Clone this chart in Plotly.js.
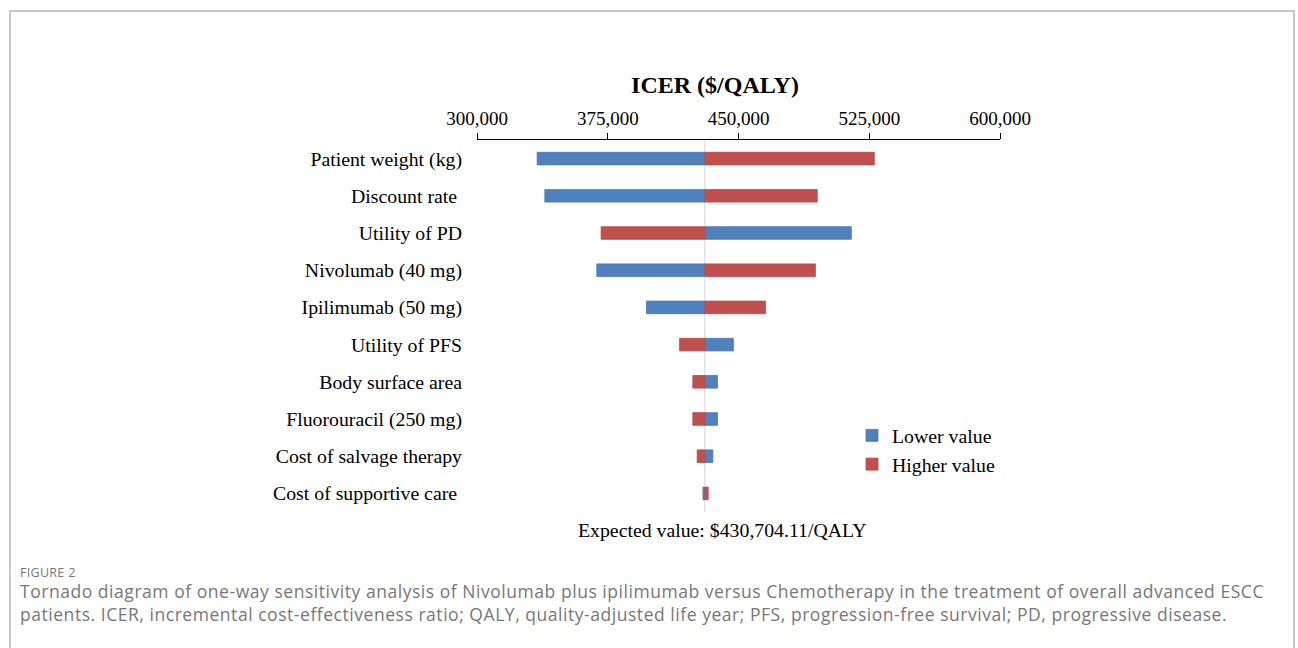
<!DOCTYPE html>
<html>
<head>
<meta charset="utf-8">
<script src="https://cdn.plot.ly/plotly-3.0.1.min.js"></script>
<style>
  html, body { margin: 0; padding: 0; background: #ffffff; }
  #wrap { position: relative; width: 1298px; height: 648px; overflow: hidden; background: #fff; }
  #frame { position: absolute; left: 9px; top: 10px; width: 1286px; height: 660px;
           border-top: 2px solid #c8c8c8; border-left: 2px solid #c8c8c8; border-right: 2px solid #c8c8c8; box-sizing: border-box; }
  #chart { position: absolute; left: 0; top: 0; width: 1298px; height: 648px; }
  .cap { position: absolute; left: 20px; font-family: "Open Sans", "Noto Sans", sans-serif; color: #777777; white-space: nowrap; }
  #figlab { top: 564px; font-size: 12.5px; letter-spacing: 0.3px; }
  #cap1 { top: 579px; font-size: 17.5px; letter-spacing: 0.54px; }
  #cap2 { top: 602px; font-size: 17.5px; letter-spacing: 0.54px; }
</style>
</head>
<body>
<div id="wrap">
  <div id="frame"></div>
  <div id="chart"></div>
  <div class="cap" id="figlab">FIGURE 2</div>
  <div class="cap" id="cap1">Tornado diagram of one-way sensitivity analysis of Nivolumab plus ipilimumab versus Chemotherapy in the treatment of overall advanced ESCC</div>
  <div class="cap" id="cap2">patients. ICER, incremental cost-effectiveness ratio; QALY, quality-adjusted life year; PFS, progression-free survival; PD, progressive disease.</div>
</div>
<script>
// ---- data ----
const expectedValue = 430704.11;
const parameters = [
  "Patient weight (kg)",
  "Discount rate\u00a0",
  "Utility of PD",
  "Nivolumab (40 mg)",
  "Ipilimumab (50 mg)",
  "Utility of PFS",
  "Body surface area",
  "Fluorouracil (250 mg)",
  "Cost of salvage therapy",
  "Cost of supportive care\u00a0"
];
// ICER when parameter set to its lower value
const lowerValueICER  = [334500, 338900, 514700, 368700, 397200, 447100, 438000, 438000, 435300, 429600];
// ICER when parameter set to its higher value
const higherValueICER = [527900, 495200, 371200, 494100, 465500, 416200, 423800, 423800, 426300, 432600];
const xTicks = [300000, 375000, 450000, 525000, 600000];

const serif = "Liberation Serif, Times New Roman, serif";

const lowerTrace = {
  type: "bar", orientation: "h", name: "Lower value",
  y: parameters,
  x: lowerValueICER.map(v => v - expectedValue),
  base: expectedValue,
  width: 0.34,
  marker: { color: "#4f81bd", line: { color: "#4a7ab3", width: 0.8 } },
  hoverinfo: "skip"
};
const higherTrace = {
  type: "bar", orientation: "h", name: "Higher value",
  y: parameters,
  x: higherValueICER.map(v => v - expectedValue),
  base: expectedValue,
  width: 0.34,
  marker: { color: "#c0504d", line: { color: "#b84a47", width: 0.8 } },
  hoverinfo: "skip"
};

const layout = {
  width: 1298, height: 648,
  paper_bgcolor: "rgba(0,0,0,0)", plot_bgcolor: "rgba(0,0,0,0)",
  margin: { l: 477, r: 298, t: 140, b: 136 },
  barmode: "overlay",
  font: { family: serif, size: 20, color: "#000" },
  title: {
    text: "<b>ICER ($/QALY)</b>",
    font: { family: serif, size: 24, color: "#000" },
    x: 715 / 1298, xanchor: "center",
    y: 1 - 85 / 648, yanchor: "middle"
  },
  xaxis: {
    side: "top",
    range: [300000, 600000],
    tickvals: xTicks,
    ticktext: xTicks.map(v => v.toLocaleString("en-US")),
    ticks: "outside", ticklen: 6, tickcolor: "#000", tickwidth: 1,
    showline: true, linecolor: "#000", linewidth: 1,
    showgrid: false, zeroline: false,
    tickfont: { family: serif, size: 19, color: "#000" },
    fixedrange: true
  },
  yaxis: {
    type: "category",
    autorange: "reversed",
    showline: false, showgrid: false, zeroline: false,
    ticks: "", ticklabelstandoff: 14,
    tickfont: { family: serif, size: 19.8, color: "#000" },
    fixedrange: true
  },
  shapes: [{
    type: "line", xref: "x", yref: "paper",
    x0: expectedValue, x1: expectedValue, y0: 0, y1: 1,
    line: { color: "#d4d4d4", width: 1 }, layer: "below"
  }],
  annotations: [{
    xref: "x", yref: "paper",
    x: expectedValue, y: -18 / 372, xanchor: "left", yanchor: "middle",
    xshift: -129,
    text: "Expected value: $430,704.11/QALY",
    showarrow: false,
    font: { family: serif, size: 19.8, color: "#000" }
  }],
  legend: {
    x: (852 - 477) / 523, xanchor: "left",
    y: (512 - 416) / 372, yanchor: "top",
    bgcolor: "rgba(0,0,0,0)",
    font: { family: serif, size: 19.8, color: "#000" },
    traceorder: "normal",
    itemwidth: 30,
    tracegroupgap: 4
  },
  showlegend: true
};

Plotly.newPlot("chart", [lowerTrace, higherTrace], layout, { displayModeBar: false, staticPlot: true });
</script>
</body>
</html>
